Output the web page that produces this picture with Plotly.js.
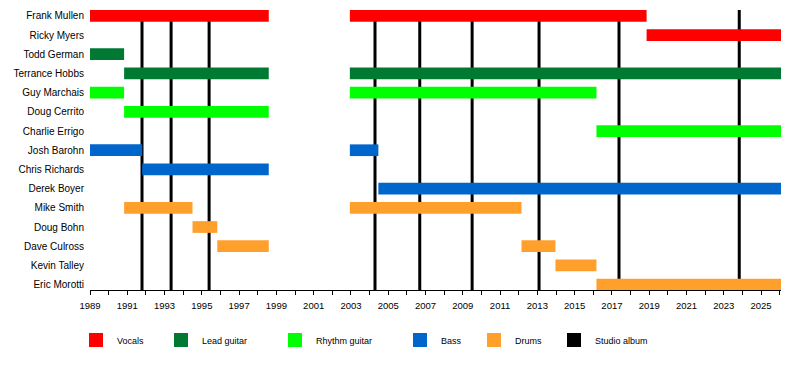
<!DOCTYPE html>
<html>
<head>
<meta charset="utf-8">
<script src="https://cdn.plot.ly/plotly-3.0.1.min.js"></script>
<style>html,body{margin:0;padding:0;background:#fff;}#chart{width:800px;height:370px;}</style>
</head>
<body>
<div id="chart"></div>
<script>
// ---- data ----
const members = ['Frank Mullen','Ricky Myers','Todd German','Terrance Hobbs','Guy Marchais','Doug Cerrito','Charlie Errigo','Josh Barohn','Chris Richards','Derek Boyer','Mike Smith','Doug Bohn','Dave Culross','Kevin Talley','Eric Morotti'];
const roles = ['Vocals','Lead guitar','Rhythm guitar','Bass','Drums'];
const END = 2026.07;

const vocalsWho  = ['Frank Mullen','Frank Mullen','Ricky Myers'];
const vocalsFrom = [1989, 2002.94, 2018.86];
const vocalsTo   = [1998.59, 2018.86, END];

const leadWho  = ['Todd German','Terrance Hobbs','Terrance Hobbs'];
const leadFrom = [1989, 1990.83, 2002.94];
const leadTo   = [1990.83, 1998.59, END];

const rhythmWho  = ['Guy Marchais','Guy Marchais','Doug Cerrito','Charlie Errigo'];
const rhythmFrom = [1989, 2002.94, 1990.83, 2016.17];
const rhythmTo   = [1990.83, 2016.17, 1998.59, END];

const bassWho  = ['Josh Barohn','Josh Barohn','Chris Richards','Derek Boyer'];
const bassFrom = [1989, 2002.94, 1991.80, 2004.47];
const bassTo   = [1991.80, 2004.47, 1998.59, END];

const drumsWho  = ['Mike Smith','Mike Smith','Doug Bohn','Dave Culross','Dave Culross','Kevin Talley','Eric Morotti'];
const drumsFrom = [1990.83, 2002.94, 1994.50, 1995.83, 2012.15, 2013.97, 2016.17];
const drumsTo   = [1994.50, 2012.15, 1995.83, 1998.59, 2013.97, 2016.17, END];

const albumYears = [1991.79, 1993.35, 1995.39, 2004.29, 2006.69, 2009.50, 2013.09, 2017.38, 2023.83];
const legendLabels = ['Vocals','Lead guitar','Rhythm guitar','Bass','Drums','Studio album'];

// ---- styles ----
const roleColors = {
  'Vocals':'#FF0000', 'Lead guitar':'#007A33', 'Rhythm guitar':'#00FF00',
  'Bass':'#0066CC', 'Drums':'#FF9F2C', 'Studio album':'#000000'
};
const FONT = '"Liberation Sans", Arial, sans-serif';
const BAR_W = 0.61;

const segs = {
  'Vocals':[vocalsWho, vocalsFrom, vocalsTo],
  'Lead guitar':[leadWho, leadFrom, leadTo],
  'Rhythm guitar':[rhythmWho, rhythmFrom, rhythmTo],
  'Bass':[bassWho, bassFrom, bassTo],
  'Drums':[drumsWho, drumsFrom, drumsTo]
};

const traces = roles.map(r => {
  const [who, from, to] = segs[r];
  return {
    type:'bar', orientation:'h', name:r,
    y: who, base: from, x: to.map((t,i)=>t-from[i]),
    width: BAR_W,
    marker:{color: roleColors[r], line:{width:0}},
    showlegend:false, hoverinfo:'skip'
  };
});

// layout geometry
const ML = 90, MR = 19, MT = 6, MB = 80, WIDTH = 800, HEIGHT = 370;
const PW = WIDTH - ML - MR, PH = HEIGHT - MT - MB;
const px2x = p => (p - ML) / PW;
const py2y = p => (HEIGHT - MB - p) / PH;

const shapes = albumYears.map(a => ({
  type:'line', xref:'x', yref:'y', x0:a, x1:a, y0:-BAR_W/2, y1:14.3,
  line:{color:'#000', width:3}, layer:'below'
}));

const legendLeft = [89, 174, 288, 413, 487, 567];
const annotations = [];
legendLabels.forEach((lab, i) => {
  const l = legendLeft[i];
  shapes.push({
    type:'rect', xref:'paper', yref:'paper',
    x0:px2x(l), x1:px2x(l+14), y0:py2y(333), y1:py2y(347),
    fillcolor: roleColors[lab], line:{width:0}
  });
  annotations.push({
    xref:'paper', yref:'paper', x:px2x(l+26), y:py2y(340.5),
    xanchor:'left', yanchor:'middle', text:lab, showarrow:false,
    font:{family:FONT, size:9, color:'#000'}
  });
});

const layout = {
  width:WIDTH, height:HEIGHT,
  margin:{l:ML, r:MR, t:MT, b:MB, pad:0},
  paper_bgcolor:'#fff', plot_bgcolor:'#fff',
  barmode:'overlay',
  showlegend:false,
  font:{family:FONT, color:'#000'},
  xaxis:{
    range:[1989, END], tick0:1989, dtick:2,
    showgrid:false, zeroline:false,
    showline:true, linecolor:'#000', linewidth:1,
    ticks:'outside', ticklen:4, tickcolor:'#000', tickwidth:1,
    minor:{dtick:1, ticks:'outside', ticklen:4, tickcolor:'#000', tickwidth:1, showgrid:false},
    tickfont:{family:FONT, size:9.5, color:'#000'},
    ticklabelstandoff:3,
    fixedrange:true
  },
  yaxis:{
    type:'category', categoryorder:'array', categoryarray:members,
    range:[14.28, -0.512],
    showgrid:false, zeroline:false, showline:false,
    ticks:'', ticklabelstandoff:5,
    tickfont:{family:FONT, size:10, color:'#000'},
    fixedrange:true
  },
  shapes: shapes,
  annotations: annotations
};

Plotly.newPlot('chart', traces, layout, {displayModeBar:false, staticPlot:true});
</script>
</body>
</html>
